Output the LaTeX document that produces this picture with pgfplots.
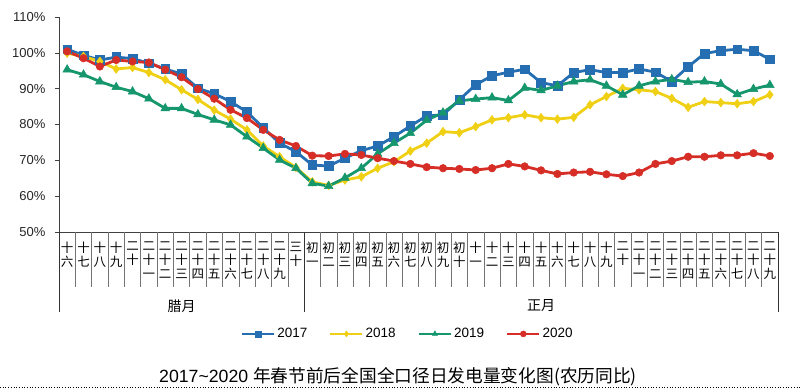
\documentclass[border=0pt]{standalone}
\usepackage{pgfplots}
\pgfplotsset{compat=1.18}
\usepackage{pgfplotstable}
\usepackage{fontspec}
\setmainfont{Liberation Sans}
\newfontfamily\cjk{Noto Sans CJK SC}
\definecolor{c17}{RGB}{38,110,178}
\definecolor{c18}{RGB}{240,208,20}
\definecolor{c19}{RGB}{22,150,108}
\definecolor{c20}{RGB}{214,45,38}
\pgfplotstableread{
i  a     b     c     d
0  101.0 99.9  95.3  100.4
1  99.3  99.0  93.9  98.5
2  98.0  97.6  92.0  96.2
3  98.8  95.5  90.4  98.0
4  98.4  95.9  89.2  97.6
5  97.1  94.5  87.2  97.3
6  95.5  92.5  84.5  95.3
7  94.1  89.7  84.5  93.2
8  90.1  87.0  82.8  89.9
9  88.6  84.0  81.3  87.2
10 86.4  81.5  79.9  84.1
11 83.5  78.5  76.6  81.8
12 79.1  74.0  73.4  78.5
13 74.8  71.0  70.1  75.7
14 72.4  68.0  67.8  74.0
15 68.7  64.0  63.6  71.3
16 68.4  63.0  62.8  71.2
17 70.6  64.5  65.1  71.8
18 72.7  65.4  67.8  71.5
19 74.0  67.8  71.8  70.6
20 76.6  69.6  74.8  69.8
21 79.6  72.6  77.6  69.0
22 82.4  74.8  81.2  68.1
23 82.7  78.0  83.3  67.8
24 86.9  77.7  86.6  67.6
25 91.1  79.4  87.1  67.3
26 93.6  81.3  87.5  67.8
27 94.6  81.9  86.7  69.0
28 95.4  82.7  90.2  68.3
29 91.7  81.9  89.5  67.2
30 90.8  81.5  90.8  66.2
31 94.5  82.0  92.0  66.6
32 95.3  85.5  92.5  66.8
33 94.5  87.8  90.8  66.1
34 94.5  90.1  88.3  65.6
35 95.5  89.7  90.8  66.6
36 94.6  89.2  92.0  69.0
37 92.0  87.3  92.6  69.8
38 96.1  84.8  91.8  71.0
39 99.8  86.4  92.0  71.0
40 100.6 86.1  91.3  71.4
41 101.0 85.8  88.4  71.4
42 100.6 86.4  89.9  72.0
43 98.2  88.3  91.0  71.2
}\data
\begin{document}
\begin{tikzpicture}[x=1pt,y=1pt]
\useasboundingbox (0pt,0pt) rectangle (800pt,388pt);
\begin{axis}[
  at={(59pt,156pt)}, anchor=south west, scale only axis,
  width=719pt, height=215pt,
  xmin=-0.5, xmax=43.5, ymin=50, ymax=110,
  ytick={50,60,...,110},
  yticklabel={\pgfmathprintnumber{\tick}\%},
  /pgf/number format/assume math mode=true,
  axis x line*=bottom, axis y line*=left,
  axis line style={black!75, line width=0.9pt},
  tick align=outside, major tick length=4pt,
  ytick style={black!75, line width=0.6pt},
  xtick style={draw=none},
  yticklabel style={font=\fontsize{13}{15}\selectfont, xshift=-6pt, text=black!85},
  xtick={0,...,43},
  xticklabels={{十\\六},{十\\七},{十\\八},{十\\九},{二\\十},{二\\十\\一},{二\\十\\二},{二\\十\\三},{二\\十\\四},{二\\十\\五},{二\\十\\六},{二\\十\\七},{二\\十\\八},{二\\十\\九},{三\\十},
    {初\\一},{初\\二},{初\\三},{初\\四},{初\\五},{初\\六},{初\\七},{初\\八},{初\\九},{初\\十},
    {十\\一},{十\\二},{十\\三},{十\\四},{十\\五},{十\\六},{十\\七},{十\\八},{十\\九},{二\\十},{二\\十\\一},{二\\十\\二},{二\\十\\三},{二\\十\\四},{二\\十\\五},{二\\十\\六},{二\\十\\七},{二\\十\\八},{二\\十\\九}},
  xticklabel style={font=\cjk\fontsize{12.5}{14}\selectfont, align=center, anchor=north, inner sep=0pt, yshift=-6pt},
  legend columns=4,
  legend style={draw=none, at={(0.485,-0.474)}, anchor=center, font=\fontsize{13.5}{16}\selectfont,
    /tikz/every even column/.append style={column sep=20pt}},
  legend image code/.code={\draw[mark repeat=2,mark phase=2,line width=2.4pt,mark size=3pt] plot coordinates {(0pt,0pt)(16pt,0pt)(32pt,0pt)};},
  every axis plot/.append style={line width=2.8pt},
]
\addplot[color=c17, mark=square*, mark size=4.4pt, mark options={line width=0.5pt}] table[x=i,y=a] {\data};
\addlegendentry{2017}
\addplot[color=c18, mark=diamond*, mark size=4.4pt, mark options={line width=0.5pt}] table[x=i,y=b] {\data};
\addlegendentry{2018}
\addplot[color=c19, mark=triangle*, mark size=5pt, mark options={line width=0.5pt}] table[x=i,y=c] {\data};
\addlegendentry{2019}
\addplot[color=c20, mark=*, mark size=3.8pt, mark options={line width=0.5pt}] table[x=i,y=d] {\data};
\addlegendentry{2020}
\end{axis}
\foreach \k in {1,...,14,16,17,...,43}
  \draw[black!55, line width=0.5pt] ({59+16.341*\k},156) -- ++(0,-55);
\foreach \k in {0,15,44}
  \draw[black!80, line width=0.9pt] ({59+16.341*\k},156) -- ++(0,-80);
\node[font=\cjk\fontsize{14}{16}\selectfont] at (181.5,82) {腊月};
\node[font=\cjk\fontsize{14}{16}\selectfont] at (541,82) {正月};
\node[font=\fontsize{17.7}{20}\selectfont, inner sep=0pt] at (398,11) {2017\textasciitilde 2020 {\cjk 年春节前后全国全口径日发电量变化图(农历同比)}};
\draw[dotted, line width=0.7pt] (0,0.5) -- (800,0.5);
\end{tikzpicture}
\end{document}
